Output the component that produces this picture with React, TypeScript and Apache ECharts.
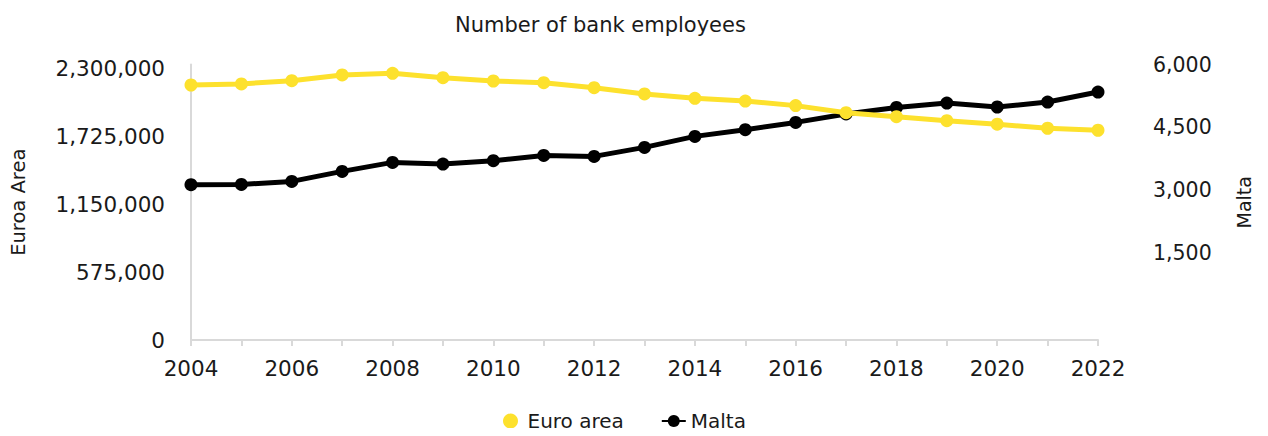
import React, { useEffect, useRef } from "react";
import * as echarts from "echarts";

const years = ["2004","2005","2006","2007","2008","2009","2010","2011","2012","2013","2014","2015","2016","2017","2018","2019","2020","2021","2022"];
const euroArea = [2164000,2173000,2201000,2249000,2263000,2226000,2198000,2184000,2141000,2088000,2051000,2028000,1989000,1929000,1895000,1861000,1831000,1797000,1780000];
const malta = [3129,3136,3208,3447,3662,3623,3702,3829,3805,4020,4283,4443,4617,4818,4975,5080,4985,5104,5343];
const leftTicks = [0,575000,1150000,1725000,2300000];
const rightTicks = [1500,3000,4500,6000];

const FONT = "'DejaVu Sans', sans-serif";
const YELLOW = "#FDE12D";
const GRAY = "#D9D9D9";
const TXT = "#1a1a1a";

const fmt = (v: number) => Math.round(v).toLocaleString("en-US");

export default function App() {
  const ref = useRef<HTMLDivElement>(null);
  useEffect(() => {
    if (!ref.current) return;
    const chart = echarts.init(ref.current, null, { renderer: "svg" });
    chart.setOption({
      animation: false,
      textStyle: { fontFamily: FONT },
      title: {
        text: "Number of bank employees",
        left: 442,
        top: 1,
        textStyle: { fontFamily: FONT, fontSize: 21, fontWeight: "normal", color: TXT },
      },
      grid: { left: 183, right: 162, top: 56.5, bottom: 96, outerBoundsMode: "none", containLabel: false },
      legend: {
        top: 398,
        left: 490,
        itemGap: 37,
        itemWidth: 24,
        itemHeight: 15,
        textStyle: { fontFamily: FONT, fontSize: 20, color: TXT },
        data: [
          { name: "Euro area", icon: "circle" },
          { name: "Malta" },
        ],
      },
      xAxis: {
        type: "category",
        data: years,
        boundaryGap: false,
        axisLine: { lineStyle: { color: GRAY, width: 2 } },
        axisTick: { show: true, interval: 0, length: 6, lineStyle: { color: GRAY, width: 2 } },
        axisLabel: { interval: 1, fontSize: 21.5, color: TXT, margin: 17, fontFamily: FONT },
        splitLine: { show: false },
      },
      yAxis: [
        {
          type: "value",
          min: 0,
          max: 2338000,
          name: "Euroa Area",
          nameLocation: "middle",
          nameRotate: 90,
          nameGap: 163,
          nameTextStyle: { fontSize: 19.5, color: TXT, fontFamily: FONT },
          axisLine: { show: true, lineStyle: { color: GRAY, width: 2 } },
          axisTick: { show: false },
          axisLabel: {
            fontSize: 21.5,
            color: TXT,
            margin: 26,
            customValues: leftTicks,
            formatter: (v: number) => fmt(v),
            fontFamily: FONT,
          },
          splitLine: { show: false },
        },
        {
          type: "value",
          min: -580,
          max: 6000,
          name: "Malta",
          nameLocation: "middle",
          nameRotate: 90,
          nameGap: 136,
          nameTextStyle: { fontSize: 19, color: TXT, fontFamily: FONT },
          axisLine: { show: false },
          axisTick: { show: false },
          axisLabel: {
            fontSize: 20.5,
            color: TXT,
            margin: 55,
            customValues: rightTicks,
            formatter: (v: number) => fmt(v),
            fontFamily: FONT,
          },
          splitLine: { show: false },
        },
      ],
      series: [
        {
          name: "Malta",
          type: "line",
          yAxisIndex: 1,
          data: malta,
          color: "#000",
          symbol: "circle",
          symbolSize: 13,
          lineStyle: { width: 5, color: "#000" },
          itemStyle: { color: "#000" },
          z: 2,
        },
        {
          name: "Euro area",
          type: "line",
          yAxisIndex: 0,
          data: euroArea,
          color: YELLOW,
          symbol: "circle",
          symbolSize: 13,
          lineStyle: { width: 5, color: YELLOW },
          itemStyle: { color: YELLOW },
          z: 3,
        },
      ],
    });
    return () => chart.dispose();
  }, []);
  return <div ref={ref} style={{ width: 1252, height: 428, marginBottom: -8 }} />;
}
